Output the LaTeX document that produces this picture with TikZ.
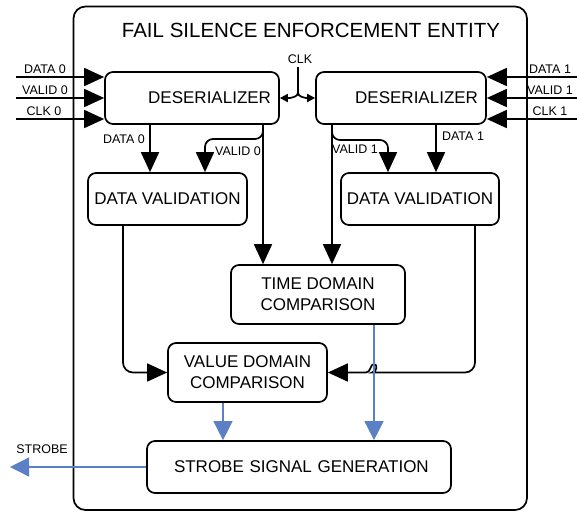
\documentclass[tikz,border=0pt]{standalone}
\usepackage{fontspec}
\setmainfont{Liberation Sans}
\usetikzlibrary{arrows.meta}
\definecolor{sigblue}{RGB}{91,128,197}
\begin{document}
\begin{tikzpicture}[x=1pt,y=-1pt,
  box/.style={draw, line width=1.7pt, rounded corners=8pt, inner sep=0pt, align=center, font=\fontsize{17}{21}\selectfont},
  lbl/.style={font=\fontsize{12.5}{14}\selectfont, inner sep=0pt},
  blk/.style={line width=1.7pt, -{Triangle[length=20pt,width=18pt]}},
  blu/.style={draw=sigblue, line width=1.3pt, -{Triangle[length=19pt,width=19pt]}},
  smallarr/.style={line width=1.7pt, -{Triangle[length=8pt,width=8pt]}}
]
\useasboundingbox (0,0) rectangle (577,512);
\node[draw, line width=1.7pt, rounded corners=12pt, minimum width=453.5pt, minimum height=503.5pt, inner sep=0pt] (outer) at (300.25,258.25) {};
\node[font=\fontsize{20.5}{24}\selectfont, inner sep=0pt] (title) at (311,30) {FAIL SILENCE ENFORCEMENT ENTITY};

% boxes
\node[box, minimum width=174pt, minimum height=52pt, text width=158pt, align=right, inner xsep=8pt] (desL) at (192,98) {DESERIALIZER};
\node[box, minimum width=170pt, minimum height=52pt, text width=154pt, align=right, inner xsep=8pt] (desR) at (401,98) {DESERIALIZER};
\node[box, minimum width=159pt, minimum height=52pt] (dvL) at (167.5,199) {DATA VALIDATION};
\node[box, minimum width=158pt, minimum height=52pt] (dvR) at (420,199) {DATA VALIDATION};
\node[box, minimum width=174pt, minimum height=59pt] (tdc) at (318,294.5) {TIME DOMAIN\\COMPARISON};
\node[box, minimum width=159pt, minimum height=59pt] (vdc) at (247.5,372.5) {VALUE DOMAIN\\COMPARISON};
\node[box, minimum width=304pt, minimum height=52pt, text width=288pt, align=left, inner xsep=8pt] (sg) at (299,467) {\hspace*{19pt}STROBE SIGNAL GENERATION};

% column guides
\coordinate (cA) at (150,0);
\coordinate (cB) at (263,0);
\coordinate (cD) at (332,0);
\coordinate (cF) at (436,0);
\coordinate (cG) at (123,0);
\coordinate (cH) at (475,0);
\coordinate (cI) at (374,0);
\coordinate (cJ) at (223,0);
\coordinate (v0) at (205,139);
\coordinate (v1) at (388,140);

% left inputs
\coordinate (i0a) at (16,77);
\coordinate (i0b) at (16,98);
\coordinate (i0c) at (16,119);
\draw[blk] (i0a) -- (i0a -| desL.west);
\draw[blk] (i0b) -- (i0b -| desL.west);
\draw[blk] (i0c) -- (i0c -| desL.west);
\node[lbl] (l0a) at (45,69) {DATA 0};
\node[lbl] (l0b) at (45,90) {VALID 0};
\node[lbl] (l0c) at (44,111) {CLK 0};

% right inputs
\coordinate (i1a) at (577,77);
\coordinate (i1b) at (577,98);
\coordinate (i1c) at (577,119);
\draw[blk] (i1a) -- (i1a -| desR.east);
\draw[blk] (i1b) -- (i1b -| desR.east);
\draw[blk] (i1c) -- (i1c -| desR.east);
\node[lbl] (l1a) at (550,69) {DATA 1};
\node[lbl] (l1b) at (550,90) {VALID 1};
\node[lbl] (l1c) at (550,111) {CLK 1};

% clock
\node[lbl] (clk) at (300,59) {CLK};
\coordinate (clkTop) at (298,67);
\coordinate (clkS) at (298,88);
\draw[smallarr] (clkTop) -- (clkS) .. controls (298,96) .. (290,98) -- (desL.east);
\draw[smallarr] (clkS) .. controls (298,96) .. (306,98) -- (desR.west);

% deserializer outputs
\draw[blk] (desL.south -| cA) -- (dvL.north -| cA);
\node[lbl] (d0) at (124,139) {DATA 0};
\draw[blk] (desL.south -| cB) -- (tdc.north -| cB);
\draw[blk, rounded corners=8pt] (desL.south -| cB) |- (v0) -- (dvL.north -| v0);
\node[lbl] (vl0) at (238,151) {VALID 0};

\draw[blk] (desR.south -| cD) -- (tdc.north -| cD);
\draw[blk, rounded corners=8pt] (desR.south -| cD) |- (v1) -- (dvR.north -| v1);
\node[lbl] (vl1) at (355,149) {VALID 1};
\draw[blk] (desR.south -| cF) -- (dvR.north -| cF);
\node[lbl] (d1) at (463,136) {DATA 1};

% validation to value domain
\draw[blk, rounded corners=10pt] (dvL.south -| cG) |- (vdc.west);
\coordinate (brR) at (382,372.5);
\coordinate (brL) at (366,372.5);
\draw[blk, rounded corners=10pt] (dvR.south -| cH) |- (brR) [sharp corners] .. controls (377,372.5) and (378,364) .. (374,364) .. controls (370,364) and (371,372.5) .. (brL) -- (vdc.east);

% blue strobe paths
\draw[blu] (tdc.south -| cI) -- (sg.north -| cI);
\draw[blu] (vdc.south -| cJ) -- (sg.north -| cJ);
\coordinate (sOut) at (10,467);
\draw[blu] (sg.west) -- (sOut);
\node[lbl] (strobeLbl) at (42,449) {STROBE};
\end{tikzpicture}
\end{document}
